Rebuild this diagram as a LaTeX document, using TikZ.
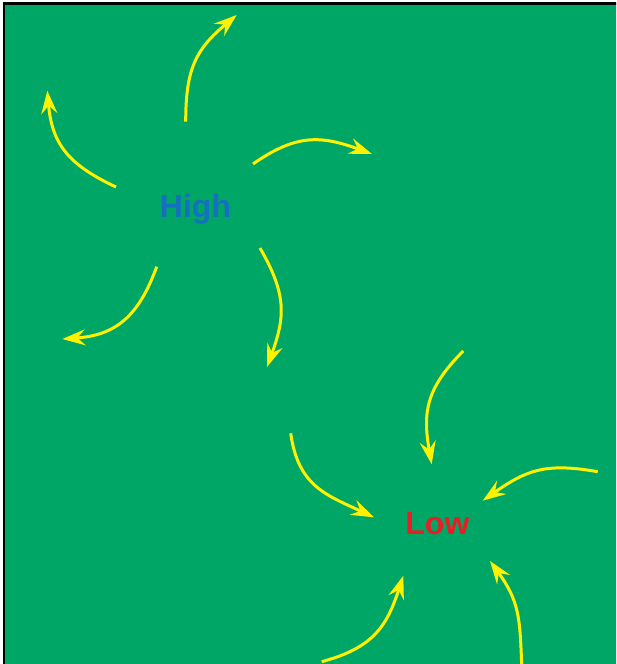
\documentclass[tikz,border=0pt]{standalone}
\usepackage{fontspec}
\setmainfont{Liberation Sans}
\usepackage{xcolor}
\usepackage{tikz}
\usetikzlibrary{arrows.meta}

\definecolor{fieldgreen}{RGB}{0,166,101}
\definecolor{windyellow}{RGB}{255,242,0}
\definecolor{highblue}{RGB}{22,112,192}
\definecolor{lowred}{RGB}{237,28,36}

\tikzset{
    wind/.style={draw=windyellow, line width=3pt, looseness=1.15,
        -{Stealth[length=23pt, width=16pt, inset=8pt]}},
    centre/.style={font=\fontsize{32}{38}\selectfont\bfseries, anchor=base, inner sep=0pt}
}

\begin{document}
\begin{tikzpicture}[x=1pt, y=1pt]
    \useasboundingbox (0,0) rectangle (616,664);
    \clip (0,0) rectangle (616,664);
    % background
    \fill[fieldgreen] (4,-10) rectangle (630,660.5);
    \draw[line width=2.5pt] (4,-10) -- (4,660.5) -- (630,660.5);

    % pressure centres
    \node[centre, text=highblue] (high) at (195.5,446) {High};
    \node[centre, text=lowred] (low) at (437.4,129) {Low};

    % outflow round the high
    \draw[wind] (185.7,542.3) to[out=90, in=220] (236.7,649);
    \draw[wind] (116,477) to[out=155, in=275] (47.3,573.3);
    \draw[wind] (253,500) to[out=35, in=160] (372,510);
    \draw[wind] (260,416) to[out=-60, in=70] (267,297);
    \draw[wind] (156.7,397.3) to[out=250, in=4] (62.3,325);

    % inflow round the low
    \draw[wind] (463.3,313) to[out=225, in=100] (431.7,199.7);
    \draw[wind] (597.7,192.3) to[out=170, in=35] (482.7,163.3);
    \draw[wind] (290.7,230.7) to[out=-82, in=155] (374,146.7);
    \draw[wind] (321.7,2.3) to[out=15, in=252] (403.3,88.3);
    \draw[wind] (521.7,-2) to[out=92, in=306] (490,103);
\end{tikzpicture}
\end{document}
